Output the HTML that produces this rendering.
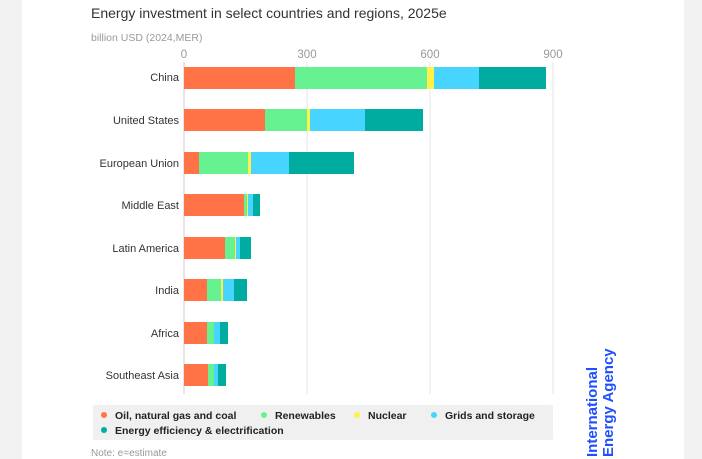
<!DOCTYPE html>
<html><head><meta charset="utf-8"><style>
body{margin:0;background:#f2f2f2;}
svg{display:block;font-family:"Liberation Sans",sans-serif;}
</style></head><body>
<svg width="702" height="459" viewBox="0 0 702 459">
<rect x="0" y="0" width="702" height="459" fill="#f2f2f2"/>
<rect x="22" y="0" width="662" height="459" fill="#ffffff"/>
<text x="91" y="18" font-size="14" fill="#333">Energy investment in select countries and regions, 2025e</text>
<text x="91" y="41" font-size="10.5" fill="#999">billion USD (2024,MER)</text>
<g font-size="11.5" fill="#999" text-anchor="middle">
<text x="184" y="58">0</text><text x="307" y="58">300</text><text x="430" y="58">600</text><text x="553" y="58">900</text>
</g>
<g stroke="#e6e6e6" stroke-width="1">
<line x1="307" y1="62" x2="307" y2="394"/><line x1="430" y1="62" x2="430" y2="394"/><line x1="553" y1="62" x2="553" y2="394"/>
</g>
<line x1="184" y1="62" x2="184" y2="394" stroke="#ccc"/>
<g font-size="11" fill="#333" text-anchor="end">
<text x="179" y="81">China</text><text x="179" y="124">United States</text><text x="179" y="167">European Union</text><text x="179" y="209">Middle East</text><text x="179" y="252">Latin America</text><text x="179" y="294">India</text><text x="179" y="337">Africa</text><text x="179" y="379">Southeast Asia</text>
</g>
<g>
<rect x="184" y="67" width="111" height="22" fill="#ff7347"/><rect x="295" y="67" width="132" height="22" fill="#66f291"/><rect x="427" y="67" width="7" height="22" fill="#fff04a"/><rect x="434" y="67" width="45" height="22" fill="#47d4ff"/><rect x="479" y="67" width="67" height="22" fill="#00aba0"/>
<rect x="184" y="109" width="81" height="22" fill="#ff7347"/><rect x="265" y="109" width="42" height="22" fill="#66f291"/><rect x="307" y="109" width="3" height="22" fill="#fff04a"/><rect x="310" y="109" width="55" height="22" fill="#47d4ff"/><rect x="365" y="109" width="58" height="22" fill="#00aba0"/>
<rect x="184" y="152" width="15" height="22" fill="#ff7347"/><rect x="199" y="152" width="49" height="22" fill="#66f291"/><rect x="248" y="152" width="3" height="22" fill="#fff04a"/><rect x="251" y="152" width="38" height="22" fill="#47d4ff"/><rect x="289" y="152" width="65" height="22" fill="#00aba0"/>
<rect x="184" y="194" width="60" height="22" fill="#ff7347"/><rect x="244" y="194" width="3" height="22" fill="#66f291"/><rect x="247" y="194" width="1" height="22" fill="#fff04a"/><rect x="248" y="194" width="5" height="22" fill="#47d4ff"/><rect x="253" y="194" width="7" height="22" fill="#00aba0"/>
<rect x="184" y="237" width="41" height="22" fill="#ff7347"/><rect x="225" y="237" width="10" height="22" fill="#66f291"/><rect x="235" y="237" width="1" height="22" fill="#fff04a"/><rect x="236" y="237" width="4" height="22" fill="#47d4ff"/><rect x="240" y="237" width="11" height="22" fill="#00aba0"/>
<rect x="184" y="279" width="23" height="22" fill="#ff7347"/><rect x="207" y="279" width="14" height="22" fill="#66f291"/><rect x="221" y="279" width="2" height="22" fill="#fff04a"/><rect x="223" y="279" width="11" height="22" fill="#47d4ff"/><rect x="234" y="279" width="13" height="22" fill="#00aba0"/>
<rect x="184" y="322" width="23" height="22" fill="#ff7347"/><rect x="207" y="322" width="7" height="22" fill="#66f291"/><rect x="214" y="322" width="6" height="22" fill="#47d4ff"/><rect x="220" y="322" width="8" height="22" fill="#00aba0"/>
<rect x="184" y="364" width="24" height="22" fill="#ff7347"/><rect x="208" y="364" width="6" height="22" fill="#66f291"/><rect x="214" y="364" width="4" height="22" fill="#47d4ff"/><rect x="218" y="364" width="8" height="22" fill="#00aba0"/>
</g>
<rect x="93" y="405" width="460" height="35" rx="2" fill="#f0f0f0"/>
<g font-size="10.5" font-weight="bold" fill="#222">
<circle cx="104" cy="415" r="3" fill="#ff7347"/><text x="115" y="419">Oil, natural gas and coal</text>
<circle cx="264" cy="415" r="3" fill="#66f291"/><text x="275" y="419">Renewables</text>
<circle cx="357" cy="415" r="3" fill="#fff04a"/><text x="368" y="419">Nuclear</text>
<circle cx="434" cy="415" r="3" fill="#47d4ff"/><text x="445" y="419">Grids and storage</text>
<circle cx="104" cy="430" r="3" fill="#00aba0"/><text x="115" y="434">Energy efficiency &amp; electrification</text>
</g>
<text x="91" y="456" font-size="10" fill="#999">Note: e=estimate</text>
<g font-size="15" font-weight="bold" fill="#1f4fff">
<text transform="translate(597,457) rotate(-90)">International</text>
<text transform="translate(613,457) rotate(-90)">Energy Agency</text>
</g>
</svg>
</body></html>
